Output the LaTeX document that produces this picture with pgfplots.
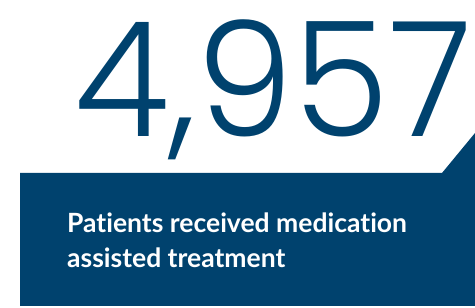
\documentclass[border=0pt]{standalone}
\usepackage{pgfplots}
\pgfplotsset{compat=1.18}
\usepackage{fontspec}
\setmainfont{Lato}[Ligatures=NoCommon]
\newfontfamily\numfont{Poppins}[UprightFont={* Light}]
\definecolor{navy}{RGB}{0,66,110}
\begin{document}
\begin{tikzpicture}
\begin{axis}[
  width=475pt, height=308pt, scale only axis,
  xmin=0, xmax=475, ymin=0, ymax=308,
  hide axis, clip=false]
\addplot[fill=navy, draw=none] coordinates {(20,2) (20,135) (442,135) (475,175) (475,2)} -- cycle;
\node[anchor=base, text=navy, inner sep=0pt, text height=118pt, text depth=14pt,
  font={\fontsize{160}{160}\numfont}] at (axis cs:273,171)
  {\scalebox{0.97}[1]{4,957}};
\node[anchor=base west, text=white, inner sep=0pt, align=left,
  font={\fontsize{26.5}{35}\selectfont\bfseries}] at (axis cs:67,40)
  {Patients received medication\\ assisted treatment};
\end{axis}
\pgfresetboundingbox
\path[use as bounding box] (0,0) rectangle (475pt,308pt);
\end{tikzpicture}
\end{document}
